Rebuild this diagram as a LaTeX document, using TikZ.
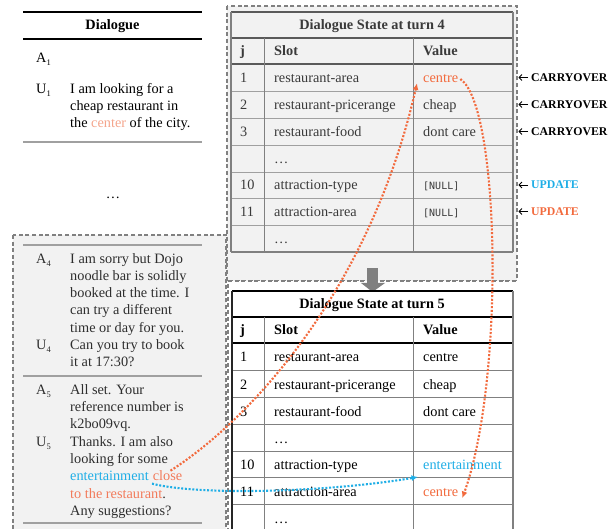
\documentclass[tikz,border=0pt]{standalone}
\usepackage{fontspec}
\setmainfont{Liberation Serif}
\newfontfamily\monof{DejaVu Sans Mono}
\usetikzlibrary{arrows.meta}
\definecolor{orng}{HTML}{F26A3D}
\definecolor{orngl}{HTML}{F27B5B}
\definecolor{salmon}{HTML}{F4A58C}
\definecolor{cyanb}{HTML}{1FAEE6}
\definecolor{boxgray}{HTML}{F2F2F2}
\definecolor{dashgray}{HTML}{808080}
\definecolor{tgray}{HTML}{3A3A3A}
\definecolor{dgray}{HTML}{2E2E2E}
\definecolor{tdark}{HTML}{5A5A5A}
\definecolor{tlight}{HTML}{A0A0A0}
\definecolor{tmid}{HTML}{808080}
\newcommand\spk[2]{#1\raisebox{-2.8pt}{\fontsize{8.5}{9}\selectfont #2}}
\begin{document}
\begin{tikzpicture}[x=1pt,y=-1pt,
  dashbox/.style={draw=dashgray, line width=1.3pt, dash pattern=on 4pt off 2.6pt},
  txt/.style={anchor=base west, inner sep=0pt, font=\fontsize{14.3}{17}\selectfont},
  hdr/.style={anchor=base west, inner sep=0pt, font=\bfseries\fontsize{14.3}{17}\selectfont},
  ttl/.style={anchor=base, inner sep=0pt, font=\bfseries\fontsize{14.3}{17}\selectfont},
  mono/.style={anchor=base west, inner sep=0pt, font=\monof\fontsize{10}{12}\selectfont},
  lbl/.style={anchor=base west, inner sep=0pt, font=\bfseries\fontsize{11.8}{14}\selectfont},
  dotarr/.style={line width=2.1pt, dash pattern=on 2pt off 1.7pt, -{Latex[length=6.5pt,width=6pt]}},
  smallarr/.style={line width=0.9pt, -{Straight Barb[length=2.8pt,width=6pt]}},
  rule/.style={line width=1.2pt},
]
\useasboundingbox (0,0) rectangle (616,529);
\clip (0,0) rectangle (616,529);

% ---------- boxes ----------
\draw[dashbox, fill=boxgray] (227,6) rectangle (517,281);
\draw[dashbox, fill=boxgray] (13,235) rectangle (226,545);
\fill[white] (228,281) rectangle (620,545);
\draw[dashbox] (228,545) -- (228,281) -- (517,281);

% ---------- upper dialogue ----------
\draw[rule, black] (23,12) -- (202,12);
\draw[rule, black] (23,39) -- (202,39);
\draw[rule, tlight] (23,142) -- (202,142);
\node[ttl] (dlgttl) at (112.5,30) {Dialogue};
\node[txt] (a1) at (36,62.3) {\spk{A}{1}};
\node[txt] (u1) at (36,93.3) {\spk{U}{1}};
\node[txt] (u1l1) at (70,93.3) {I am looking for a};
\node[txt] (u1l2) at (70,110.6) {cheap restaurant in};
\node[txt] (u1l3) at (70,127.9) {the \textcolor{salmon}{center} of the city.};
\node[txt, anchor=base] (gap) at (113,199) {…};

% ---------- lower dialogue ----------
\draw[rule, tlight] (23,245) -- (202,245);
\draw[rule, tlight] (23,376) -- (202,376);
\draw[rule, tlight] (23,523) -- (202,523);
\begin{scope}[every node/.append style={text=dgray}]
\node[txt] (a4) at (36,263.3) {\spk{A}{4}};
\node[txt] (a4l1) at (70,263.3) {I am sorry but Dojo};
\node[txt] (a4l2) at (70,280.5) {noodle bar is solidly};
\node[txt] (a4l3) at (70,297.8) {booked at the time. I};
\node[txt] (a4l4) at (70,315.0) {can try a different};
\node[txt] (a4l5) at (70,332.3) {time or day for you.};
\node[txt] (u4) at (36,349.5) {\spk{U}{4}};
\node[txt] (u4l1) at (70,349.5) {Can you try to book};
\node[txt] (u4l2) at (70,366.8) {it at 17:30?};
\node[txt] (a5) at (36,394.3) {\spk{A}{5}};
\node[txt] (a5l1) at (70,394.3) {All set. Your};
\node[txt] (a5l2) at (70,411.6) {reference number is};
\node[txt] (a5l3) at (70,428.9) {k2bo09vq.};
\node[txt] (u5) at (36,446.2) {\spk{U}{5}};
\node[txt] (u5l1) at (70,446.2) {Thanks. I am also};
\node[txt] (u5l2) at (70,463.5) {looking for some};
\node[txt, text=cyanb] (ent) at (70,480.8) {entertainment};
\node[txt, text=orngl, anchor=base west] (close) at ([xshift=3.6pt]ent.base east) {close};
\node[txt] (u5l4) at (70,498.1) {\textcolor{orngl}{to the restaurant}.};
\node[txt] (u5l5) at (70,515.4) {Any suggestions?};
\end{scope}

% ---------- table turn 4 ----------
\draw[rule, tdark] (231,12) -- (513,12);
\draw[line width=1.4pt, tdark] (231,38) -- (513,38);
\draw[line width=1.4pt, tdark] (231,64) -- (513,64);
\foreach \yy in {91,118,145,172,198,225}
  \draw[line width=0.9pt, tlight] (231,\yy) -- (513,\yy);
\draw[rule, tmid] (231,252) -- (513,252);
\draw[rule, tmid] (231,12) -- (231,252);
\draw[rule, tmid] (513,12) -- (513,252);
\draw[line width=0.9pt, tmid] (264,38) -- (264,252);
\draw[line width=0.9pt, tmid] (413,38) -- (413,252);
\begin{scope}[every node/.append style={text=tgray}]
\node[ttl] (t4ttl) at (372,30) {Dialogue State at turn 4};
\node[hdr] (t4hj) at (240,56) {j};
\node[hdr] (t4hs) at (274,56) {Slot};
\node[hdr] (t4hv) at (423,56) {Value};
\node[txt] (t4j1) at (240,83) {1};
\node[txt] (t4s1) at (274,83) {restaurant-area};
\node[txt, text=orng] (t4v1) at (423,83) {centre};
\node[txt] (t4j2) at (240,110) {2};
\node[txt] (t4s2) at (274,110) {restaurant-pricerange};
\node[txt] (t4v2) at (423,110) {cheap};
\node[txt] (t4j3) at (240,137) {3};
\node[txt] (t4s3) at (274,137) {restaurant-food};
\node[txt] (t4v3) at (423,137) {dont care};
\node[txt] (t4sd) at (274,164) {…};
\node[txt] (t4j10) at (240,190) {10};
\node[txt] (t4s10) at (274,190) {attraction-type};
\node[mono] (t4v10) at (423,190) {[NULL]};
\node[txt] (t4j11) at (240,217) {11};
\node[txt] (t4s11) at (274,217) {attraction-area};
\node[mono] (t4v11) at (423,217) {[NULL]};
\node[txt] (t4se) at (274,244) {…};
\end{scope}

% ---------- right labels ----------
\node[lbl] (c1) at (531,81.5) {CARRYOVER};
\node[lbl] (c2) at (531,108.5) {CARRYOVER};
\node[lbl] (c3) at (531,135.5) {CARRYOVER};
\node[lbl, text=cyanb] (up1) at (531,189) {UPDATE};
\node[lbl, text=orng] (up2) at (531,215.5) {UPDATE};
\foreach \n/\yy in {c1/77.5,c2/104.5,c3/131.5,up1/185,up2/211.5}
  \draw[smallarr] (528,\yy) -- (518.5,\yy);

% ---------- gray block arrow ----------
\fill[tmid] (367,268) rectangle (378,283);
\fill[tmid] (361,283) -- (385,283) -- (372.5,292) -- cycle;

% ---------- table turn 5 ----------
\begin{scope}[shift={(0,279)}]
\draw[line width=1.5pt, black] (232,12) -- (513,12);
\draw[line width=1.5pt, black] (232,38) -- (513,38);
\draw[line width=1.5pt, black] (232,64) -- (513,64);
\foreach \yy in {91,118,145,172,198,225}
  \draw[line width=0.9pt, tmid] (232,\yy) -- (513,\yy);
\draw[rule, black!85] (232,12) -- (232,260);
\draw[rule, tmid] (513,12) -- (513,260);
\draw[line width=0.9pt, tmid] (264,38) -- (264,260);
\draw[line width=0.9pt, tmid] (413,38) -- (413,260);
\node[ttl] (t5ttl) at (372,30) {Dialogue State at turn 5};
\node[hdr] (t5hj) at (240,56) {j};
\node[hdr] (t5hs) at (274,56) {Slot};
\node[hdr] (t5hv) at (423,56) {Value};
\node[txt] (t5j1) at (240,83) {1};
\node[txt] (t5s1) at (274,83) {restaurant-area};
\node[txt] (t5v1) at (423,83) {centre};
\node[txt] (t5j2) at (240,110) {2};
\node[txt] (t5s2) at (274,110) {restaurant-pricerange};
\node[txt] (t5v2) at (423,110) {cheap};
\node[txt] (t5j3) at (240,137) {3};
\node[txt] (t5s3) at (274,137) {restaurant-food};
\node[txt] (t5v3) at (423,137) {dont care};
\node[txt] (t5sd) at (274,164) {…};
\node[txt] (t5j10) at (240,190) {10};
\node[txt] (t5s10) at (274,190) {attraction-type};
\node[txt, text=cyanb] (t5v10) at (423,190) {entertainment};
\node[txt] (t5j11) at (240,217) {11};
\node[txt] (t5s11) at (274,217) {attraction-area};
\node[txt, text=orng] (t5v11) at (423,217) {centre};
\node[txt] (t5se) at (274,244) {…};
\end{scope}

% ---------- dotted connectors ----------
\draw[dotarr, orng] ([xshift=3pt]close.north) .. controls (250,420) and (370,290) .. ([xshift=-6pt]t4v1.south west);
\draw[dotarr, orng] ([xshift=2pt]t4v1.east) .. controls (500,105) and (505,380) .. ([shift={(4pt,-2pt)}]t5v11.base east);
\draw[dotarr, cyanb] ([shift={(3pt,-2.5pt)}]ent.south east) .. controls (200,496) and (330,492) .. ([shift={(-5pt,-8pt)}]t5v10.base west);
\end{tikzpicture}
\end{document}
